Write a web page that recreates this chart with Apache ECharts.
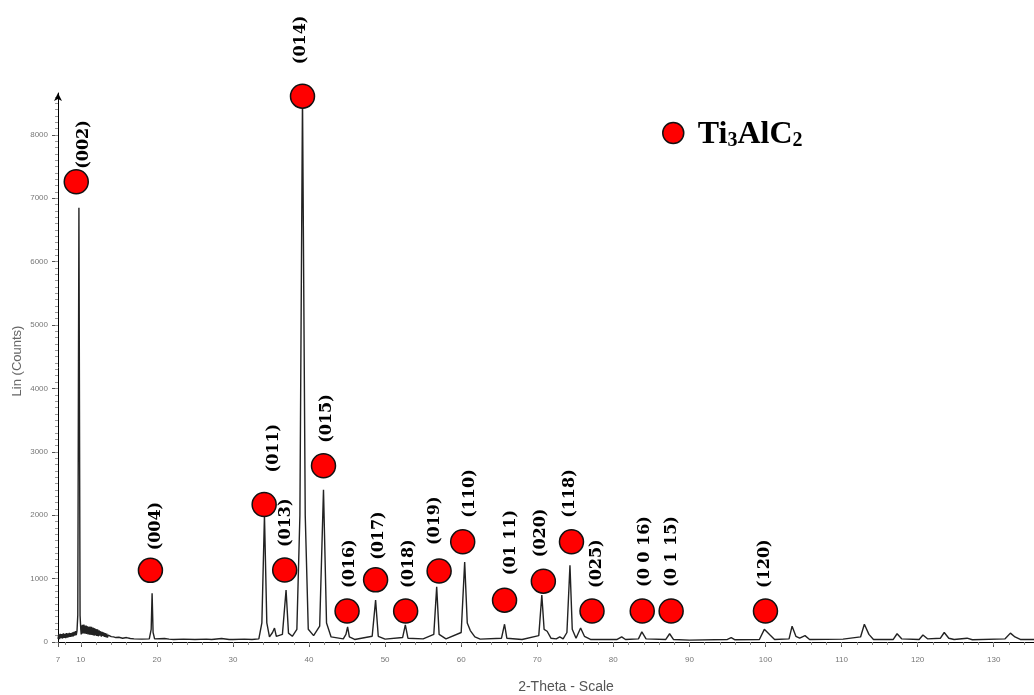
<!DOCTYPE html>
<html><head><meta charset="utf-8">
<script src="https://cdn.jsdelivr.net/npm/echarts@6/dist/echarts.min.js"></script>
<style>html,body{margin:0;padding:0;background:#fff}#c{width:1034px;height:695px}</style>
</head><body><div id="c"></div>
<script>
const twoTheta = [
  7.0,7.1,7.2,7.3,7.4,7.5,7.6,7.7,7.8,7.9,8.0,8.1,8.2,8.3,8.4,8.5,8.6,8.7,8.8,8.9,9.0,9.1,9.2,9.3,9.4,9.5,
  9.6,9.75,9.9,10.0,
  10.05,10.1,10.15,10.2,10.25,10.3,10.35,10.4,10.45,10.5,10.55,10.6,10.65,10.7,10.75,10.8,10.85,10.9,10.95,11.0,
  11.05,11.1,11.15,11.2,11.25,11.3,11.35,11.4,11.45,11.5,11.55,11.6,11.65,11.7,11.75,11.8,11.85,11.9,11.95,12.0,
  12.1,12.2,12.3,12.4,12.5,12.6,12.7,12.8,12.9,13.0,13.1,13.2,13.3,13.4,13.5,13.6,13.8,14.0,14.3,14.6,15.0,15.5,16.0,16.5,17.0,
  18.0,19.0,19.25,19.37,19.5,19.7,21.0,21.6,22.2,23.5,25.0,26.5,27.2,28.5,29.5,30.0,31.5,32.5,33.4,
  33.8,34.14,34.45,34.8,35.2,35.46,35.7,36.5,36.98,37.3,37.8,38.4,38.8,39.14,39.5,39.9,40.6,41.4,41.9,42.3,42.9,
  44.5,44.85,45.07,45.3,46.0,48.3,48.75,49.1,50.0,52.3,52.66,53.0,55.0,56.4,56.78,57.1,58.0,
  60.0,60.46,60.8,61.2,61.8,62.5,65.3,65.7,66.0,68.0,70.2,70.6,70.9,71.3,71.8,72.5,72.96,73.4,73.9,74.3,74.6,75.1,
  75.7,76.2,77.0,80.5,81.1,81.6,83.3,83.75,84.3,86.9,87.4,87.9,90.0,95.0,95.5,96.0,99.2,99.85,100.6,101.2,
  103.1,103.5,104.0,104.5,105.2,105.8,110.2,112.5,113.0,113.6,114.2,116.8,117.3,117.9,120.2,120.7,121.3,
  123.0,123.5,124.1,124.8,126.5,127.2,131.5,132.2,132.8,133.5,135.3
];
const counts = [
  50,120,45,130,60,125,55,135,65,130,60,140,70,135,75,145,80,140,85,150,90,160,100,170,110,180,
  420,6850,420,190,
  120,260,130,270,140,265,135,275,145,260,130,255,140,260,125,250,135,245,120,240,
  130,235,115,245,125,230,110,240,120,225,110,230,105,220,115,215,100,210,110,205,
  95,200,90,185,100,170,85,160,95,150,80,140,75,130,70,110,95,85,80,70,75,60,70,55,50,
  45,50,200,770,150,50,55,45,40,45,40,45,40,55,40,40,45,40,50,
  300,2000,300,80,150,220,90,120,820,140,90,200,2000,8600,2000,200,100,250,2400,300,80,
  50,120,240,80,40,90,660,90,45,70,270,60,50,120,870,120,50,
  150,1260,300,180,80,45,60,280,60,40,100,740,200,170,60,50,80,50,150,1210,200,60,
  220,90,40,40,80,40,50,160,50,40,130,40,30,40,70,35,40,200,110,40,
  50,250,90,60,100,40,45,80,280,120,40,40,130,50,40,110,50,
  60,150,60,40,60,35,50,140,80,40,40
];
const peakTheta  = [9.4,19.15,34.1,36.8,39.14,41.9,45.0,48.75,52.7,57.1,60.2,65.7,70.8,74.5,77.2,83.8,87.6,100.0];
const peakCounts = [7260,1130,2170,1135,8610,2780,490,980,490,1120,1580,660,960,1580,490,490,490,490];
const peakLabels = ['(002)','(004)','(011)','(013)','(014)','(015)','(016)','(017)','(018)','(019)','(110)',
                    '(01 11)','(020)','(118)','(025)','(0 0 16)','(0 1 15)','(120)'];
const phaseName = 'Ti3AlC2';
const xTickLabels = [7,10,20,30,40,50,60,70,80,90,100,110,120,130];
const yTickLabels = [0,1000,2000,3000,4000,5000,6000,7000,8000];

// ---- styling / layout ----
const labelOffsets = [[8,-13],[5,-20],[10,-32],[1,-23],[-2,-32],[3,-23],[3,-23],[3,-20],[3,-23],[-4,-26],[7,-24],
                      [6,-25],[-2,-24],[-2,-24],[5,-23],[3,-24],[1,-24],[-1,-23]];
const xMinor = []; for (let v = 8; v <= 134; v += 2) xMinor.push(v);
const yMinor = []; for (let v = 0; v <= 8600; v += 100) yMinor.push(v);

const chart = echarts.init(document.getElementById('c'), null, {renderer:'canvas'});
const tickFont = {color:'#777', fontSize:8, fontFamily:'Liberation Sans'};
const option = {
  animation:false,
  backgroundColor:'#fff',
  grid: {left:58, right:0, top:93, bottom:53},
  legend: {
    left:657, top:114, itemWidth:21, itemHeight:21, icon:'circle',
    data:[phaseName],
    itemStyle:{color:'#ff0000', borderColor:'#111', borderWidth:1.5, opacity:1},
    formatter: () => '{a|Ti}{s|3}{a|AlC}{s|2}',
    textStyle:{ padding:[0,0,0,9], rich:{
      a:{fontFamily:'Liberation Serif', fontWeight:'bold', fontSize:32, color:'#000', lineHeight:36, verticalAlign:'bottom'},
      s:{fontFamily:'Liberation Serif', fontWeight:'bold', fontSize:20, color:'#000', lineHeight:12, verticalAlign:'bottom'}
    }}
  },
  xAxis: [
    {type:'value', min:7, max:135.3, splitLine:{show:false},
     axisLine:{lineStyle:{color:'#000', width:1}},
     axisTick:{customValues:xTickLabels, length:5, lineStyle:{color:'#555'}},
     axisLabel:{customValues:xTickLabels, margin:14, ...tickFont}},
    {type:'value', min:7, max:135.3, position:'bottom', splitLine:{show:false},
     axisLine:{show:false}, axisLabel:{show:false},
     axisTick:{customValues:xMinor, length:3, lineStyle:{color:'#888'}}}
  ],
  yAxis: [
    {type:'value', min:0, max:8660, splitLine:{show:false},
     axisLine:{show:true, symbol:['none','arrow'], symbolSize:[6,8], lineStyle:{color:'#000', width:1}},
     axisTick:{customValues:yTickLabels, length:6, lineStyle:{color:'#555'}},
     axisLabel:{customValues:yTickLabels, margin:10, formatter:(v)=>String(v), ...tickFont}},
    {type:'value', min:0, max:8660, position:'left', splitLine:{show:false},
     axisLine:{show:false}, axisLabel:{show:false},
     axisTick:{customValues:yMinor, length:3, lineStyle:{color:'#999'}}}
  ],
  series: [
    {type:'line', name:'pattern', data: twoTheta.map((t,i)=>[t,counts[i]]), showSymbol:false, clip:false,
     lineStyle:{color:'#222', width:1.4}, z:2, silent:true},
    {type:'scatter', name:phaseName, data: peakTheta.map((t,i)=>[t,peakCounts[i]]), symbol:'circle', symbolSize:24,
     itemStyle:{color:'#ff0000', borderColor:'#111', borderWidth:1.5, opacity:1}, z:5, clip:false}
  ]
};
chart.setOption(option);

const g = [];
peakLabels.forEach((txt,i)=>{
  const p = chart.convertToPixel({seriesIndex:1}, [peakTheta[i], peakCounts[i]]);
  g.push({type:'text', x:p[0]+labelOffsets[i][0], y:p[1]+labelOffsets[i][1], rotation:Math.PI/2, z:10,
    style:{text:txt, font:'bold 16px "DejaVu Serif"', fill:'#000', align:'left', verticalAlign:'middle'}});
});
g.push({type:'text', x:17, y:361, rotation:Math.PI/2, style:{text:'Lin (Counts)', font:'13px "Liberation Sans"', fill:'#666', align:'center', verticalAlign:'middle'}});
g.push({type:'text', x:566, y:687, style:{text:'2-Theta - Scale', font:'14px "Liberation Sans"', fill:'#555', align:'center', verticalAlign:'middle'}});
chart.setOption({graphic:g});
</script></body></html>
